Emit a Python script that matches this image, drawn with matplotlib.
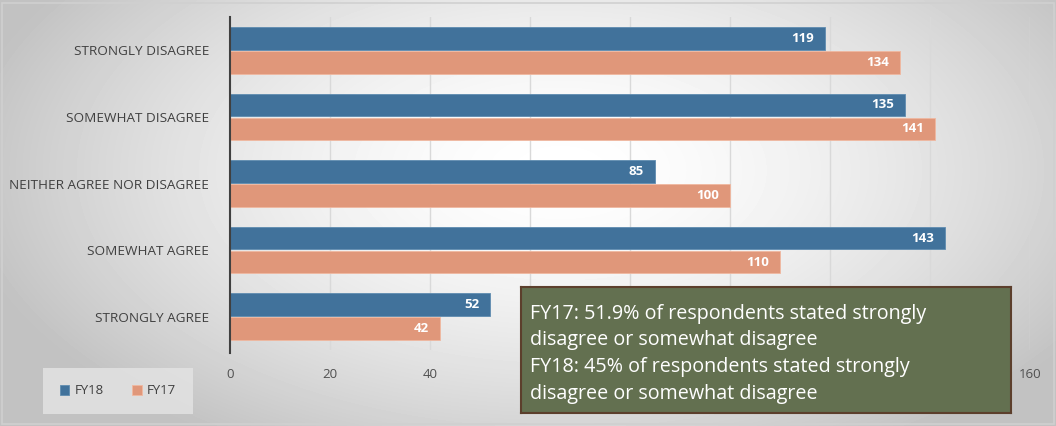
import matplotlib
matplotlib.use('Agg')
import matplotlib.pyplot as plt
from matplotlib.patches import Rectangle
import numpy as np

plt.rcParams['font.family'] = ['Open Sans', 'DejaVu Sans']

categories = ['STRONGLY DISAGREE', 'SOMEWHAT DISAGREE', 'NEITHER AGREE NOR DISAGREE',
              'SOMEWHAT AGREE', 'STRONGLY AGREE']
fy18 = [119, 135, 85, 143, 52]
fy17 = [134, 141, 100, 110, 42]
xticks = [0, 20, 40, 60, 80, 100, 120, 140, 160]
# 60..140 sit behind the note box in the original, so they are not shown
xtick_labels = ['0', '20', '40', '', '', '', '', '', '160']
note = ("FY17: 51.9% of respondents stated strongly\n"
        "disagree or somewhat disagree\n"
        "FY18: 45% of respondents stated strongly\n"
        "disagree or somewhat disagree")

C18 = '#41729b'
C17 = '#e0977a'

fig = plt.figure(figsize=(10.56, 4.26), dpi=100)

# radial gradient background
bg = fig.add_axes([0, 0, 1, 1], zorder=0)
yy, xx = np.mgrid[0:426, 0:1056]
r = np.sqrt(((xx - 560) / 620.0) ** 2 + ((yy - 170) / 330.0) ** 2)
shade = np.clip(1.0 - 0.25 * r ** 1.6, 0.76, 1.0)
bg.imshow(shade, cmap='gray', vmin=0, vmax=1, aspect='auto', extent=[0, 1, 0, 1])
bg.add_patch(Rectangle((0.002, 0.004), 0.996, 0.99, transform=bg.transAxes,
                       fill=False, edgecolor='#d0d0d0', lw=1.2))
bg.set_axis_off()

W, H = 1056, 426
ax = fig.add_axes([230 / W, 1 - 350 / H, 800 / W, 333 / H], zorder=1)
ax.patch.set_alpha(0)

y = np.arange(len(categories))
h = 0.34
b18 = ax.barh(y - h / 2 - 0.01, fy18, height=h, color=C18, edgecolor='#5f8cb0', lw=0.6, zorder=3, label='FY18')
b17 = ax.barh(y + h / 2 + 0.01, fy17, height=h, color=C17, edgecolor='#f0b8a0', lw=0.6, zorder=3, label='FY17')
for bars, vals in [(b18, fy18), (b17, fy17)]:
    for bar, v in zip(bars, vals):
        ax.text(bar.get_width() - 2.2, bar.get_y() + bar.get_height() / 2, str(v),
                ha='right', va='center', color='white', fontsize=9.5, fontweight='bold', zorder=4)

ax.set_xlim(0, 160)
ax.set_ylim(4.5, -0.5)
ax.set_xticks(xticks)
ax.set_xticklabels(xtick_labels, fontsize=9.5, color='#505050')
ax.set_yticks(y)
ax.set_yticklabels(categories, fontsize=9.7, color='#404040')
ax.tick_params(axis='x', length=0, pad=13)
ax.tick_params(axis='y', length=0, pad=15)
ax.grid(axis='x', color='#d9d9d9', lw=1, zorder=1)
for s in ['top', 'right', 'bottom']:
    ax.spines[s].set_visible(False)
ax.spines['left'].set_color('#404040')
ax.spines['left'].set_linewidth(1.5)
ax.spines['left'].set_bounds(4.55, -0.5)
ax.spines['left'].set_zorder(5)

# legend
leg = fig.legend(handles=[b18, b17], labels=['FY18', 'FY17'], loc='center',
                 bbox_to_anchor=(118 / W, 1 - 391 / H), ncol=2, frameon=True,
                 fontsize=9.5, handlelength=0.7, handleheight=0.7, columnspacing=2.2,
                 borderpad=1.25, handletextpad=0.4, fancybox=False)
leg.get_frame().set_facecolor('#e4e4e4')
leg.get_frame().set_edgecolor('none')
for t in leg.get_texts():
    t.set_color('#404040')

# note box
nb = fig.add_axes([521 / W, 1 - 413 / H, 490 / W, 126 / H], zorder=6)
nb.set_xticks([])
nb.set_yticks([])
nb.set_facecolor('#637050')
for s in nb.spines.values():
    s.set_color('#5c3f2c')
    s.set_linewidth(1.5)
nb.text(0.018, 0.47, note, transform=nb.transAxes, ha='left', va='center',
        color='white', fontsize=14.2, linespacing=1.45)

fig.savefig('out.png', dpi=100)
